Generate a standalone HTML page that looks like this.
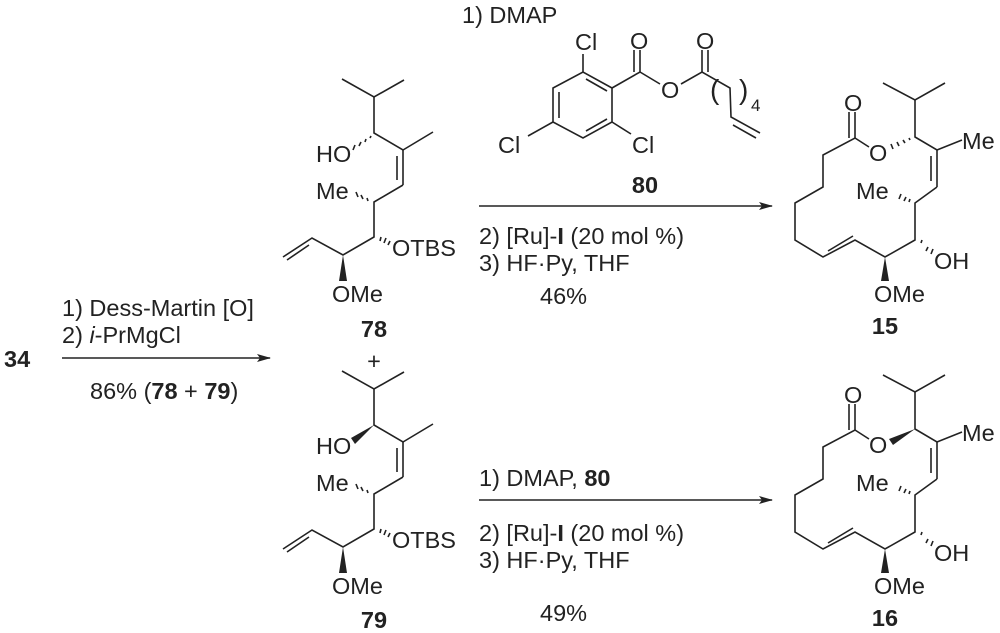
<!DOCTYPE html>
<html><head><meta charset="utf-8"><style>
html,body{margin:0;padding:0;background:#fff;}
svg{display:block;}
text{font-family:"Liberation Sans",Arial,sans-serif;font-size:23.5px;fill:#222;}
.b{font-weight:bold;}
line,polyline{stroke:#222;stroke-width:1.6;fill:none;}
</style></head><body>
<svg width="1000" height="633" viewBox="0 0 1000 633" xmlns="http://www.w3.org/2000/svg">
<defs>
<marker id="ah" markerWidth="14" markerHeight="8" refX="13" refY="4" orient="auto" markerUnits="userSpaceOnUse">
<path d="M0,0 L14,4 L0,8 L3,4 Z" fill="#222"/>
</marker>
<g id="chain">
<polyline points="342,79 374,97 404,80"/>
<polyline points="374,97 374,133 403,150 433,132"/>
<line x1="403" y1="150" x2="403" y2="185"/>
<line x1="397" y1="156" x2="397" y2="180"/>
<polyline points="403,185 374,202 374,237 343,255 312,238 283,257"/>
<line x1="309" y1="245" x2="287" y2="260"/>
<polygon points="343,255 339,281 347,281" fill="#222"/>
<g stroke="#222" stroke-width="1.4">
<line x1="390" y1="241" x2="388" y2="245"/><line x1="386" y1="238" x2="384" y2="243"/><line x1="381" y1="237" x2="380" y2="241"/>
<line x1="358" y1="197" x2="356" y2="192"/><line x1="363" y1="199" x2="361" y2="195"/><line x1="368" y1="201" x2="367" y2="198"/>
</g>
<text x="316" y="199">Me</text>
<text x="392" y="256">OTBS</text>
<text x="332" y="302">OMe</text>
<text x="316" y="162">HO</text>
</g>
<g id="mac">
<polyline points="883,83 915,100 945,83"/>
<polyline points="915,100 915,137 937,150 962,140"/>
<line x1="937" y1="150" x2="937" y2="187"/>
<line x1="931" y1="156" x2="931" y2="181"/>
<polyline points="937,187 915,203 915,240 885,257 855,240 823,257 795,240 795,203 823,187 823,155 855,138 869,147"/>
<line x1="828" y1="251" x2="853" y2="236"/>
<line x1="855" y1="138" x2="855" y2="112"/>
<line x1="849" y1="138" x2="849" y2="112"/>
<polygon points="885,257 881,281 889,281" fill="#222"/>
<g stroke="#222" stroke-width="1.4">
<line x1="899" y1="199" x2="901" y2="194"/><line x1="904" y1="201" x2="906" y2="197"/><line x1="909" y1="202" x2="910" y2="199"/>
<line x1="931" y1="254" x2="933" y2="249"/><line x1="926" y1="251" x2="928" y2="247"/><line x1="921" y1="243" x2="922" y2="240"/>
</g>
<text x="844" y="111">O</text>
<text x="869" y="161">O</text>
<text x="962" y="149">Me</text>
<text x="856" y="199">Me</text>
<text x="934" y="269">OH</text>
<text x="874" y="302">OMe</text>
</g>
</defs>

<!-- 78 -->
<use href="#chain"/>
<g stroke="#222" stroke-width="1.4">
<line x1="353" y1="150" x2="355" y2="145"/><line x1="359" y1="146" x2="361" y2="142"/><line x1="365" y1="142" x2="366" y2="139"/><line x1="370" y1="138" x2="371" y2="136"/>
</g>
<text class="b" x="374" y="337" text-anchor="middle">78</text>
<text x="374" y="369" text-anchor="middle">+</text>

<!-- 79 -->
<g transform="translate(0,292)"><use href="#chain"/>
<polygon points="374,133 351,146 355,152" fill="#222"/></g>
<text class="b" x="374" y="628" text-anchor="middle">79</text>

<!-- 15 -->
<use href="#mac"/>
<g stroke="#222" stroke-width="1.4">
<line x1="893" y1="149" x2="891" y2="144"/><line x1="899" y1="146" x2="897" y2="142"/><line x1="905" y1="143" x2="903" y2="140"/><line x1="910" y1="140" x2="909" y2="138"/>
</g>
<text class="b" x="885" y="334" text-anchor="middle">15</text>

<!-- 16 -->
<g transform="translate(0,292)"><use href="#mac"/>
<polygon points="915,137 889,147 893,153" fill="#222"/></g>
<text class="b" x="885" y="626" text-anchor="middle">16</text>

<!-- 80 -->
<polygon points="612,88 583,72 553,88 553,122 583,138 612,122" fill="none" stroke="#222" stroke-width="1.6"/>
<line x1="559" y1="92" x2="559" y2="118"/>
<line x1="586" y1="131" x2="607" y2="119"/>
<line x1="586" y1="79" x2="607" y2="91"/>
<line x1="583" y1="72" x2="583" y2="54"/>
<line x1="612" y1="122" x2="631" y2="134"/>
<line x1="553" y1="122" x2="528" y2="136"/>
<polyline points="612,88 640,72 660,84"/>
<line x1="640" y1="72" x2="640" y2="50"/><line x1="634" y1="72" x2="634" y2="50"/>
<polyline points="681,84 702,72 730,88 731,117 760,133"/>
<line x1="708" y1="72" x2="708" y2="50"/><line x1="702" y1="72" x2="702" y2="50"/>
<line x1="733" y1="125" x2="756" y2="138"/>
<text x="575" y="50">Cl</text>
<text x="632" y="153">Cl</text>
<text x="498" y="153">Cl</text>
<text x="630" y="49">O</text>
<text x="661" y="98">O</text>
<text x="696" y="49">O</text>
<text x="710" y="99" style="font-size:28px">(</text>
<text x="739" y="99" style="font-size:28px">)</text>
<text x="751" y="111" style="font-size:17px">4</text>
<text class="b" x="645" y="193" text-anchor="middle">80</text>

<!-- arrows & conditions -->
<text class="b" x="4" y="367">34</text>
<line x1="62" y1="358" x2="270" y2="358" marker-end="url(#ah)"/>
<text x="62" y="316">1) Dess-Martin [O]</text>
<text x="62" y="343">2) <tspan font-style="italic">i</tspan>-PrMgCl</text>
<text x="90" y="399">86% (<tspan class="b">78</tspan> + <tspan class="b">79</tspan>)</text>

<text x="462" y="23">1) DMAP</text>
<line x1="479" y1="206" x2="772" y2="206" marker-end="url(#ah)"/>
<text x="479" y="244">2) [Ru]-<tspan class="b">I</tspan> (20 mol %)</text>
<text x="479" y="271">3) HF·Py, THF</text>
<text x="540" y="304">46%</text>

<text x="479" y="486">1) DMAP, <tspan class="b">80</tspan></text>
<line x1="479" y1="500" x2="772" y2="500" marker-end="url(#ah)"/>
<text x="479" y="541">2) [Ru]-<tspan class="b">I</tspan> (20 mol %)</text>
<text x="479" y="568">3) HF·Py, THF</text>
<text x="540" y="621">49%</text>
</svg>
</body></html>
